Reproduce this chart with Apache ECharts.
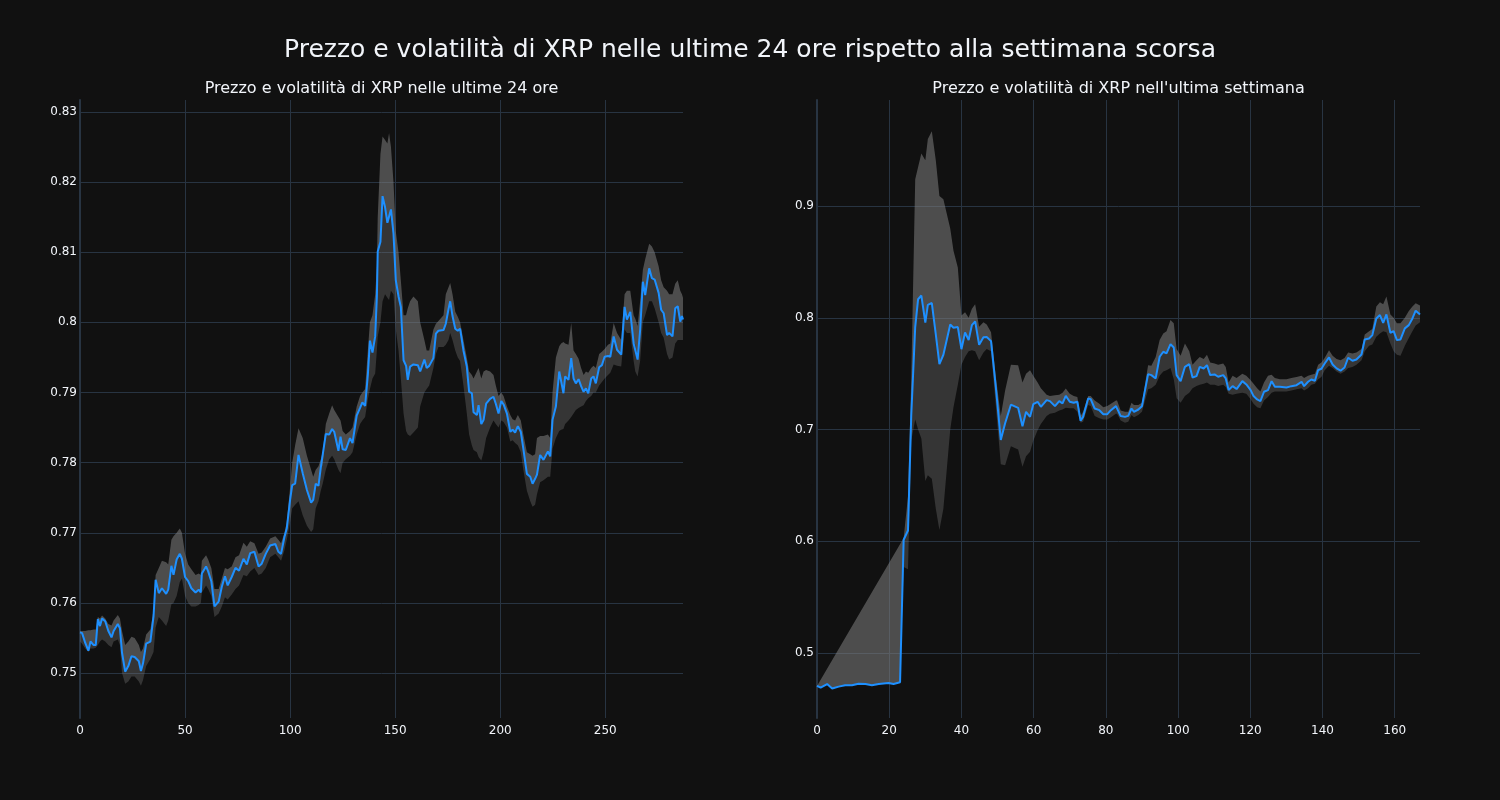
<!DOCTYPE html>
<html>
<head>
<meta charset="utf-8">
<script src="https://cdn.jsdelivr.net/npm/echarts@6/dist/echarts.min.js"></script>
<style>
  html, body { margin: 0; padding: 0; background: #111111; }
  #chart { width: 1500px; height: 800px; }
</style>
</head>
<body>
<div id="chart"></div>
<script>
// ultime 24 ore (5 minuti per punto)
var dayX = [0,1,2.5,4,5,6.5,7.5,8.5,9.5,10.5,12,13.5,15,16,18,19,20,21.5,23,24.5,26,28,29,30,31.5,33.5,35,36,37.5,39,41,42,43.5,44.5,46,47.5,48.5,50,51.5,53,55,56.5,57.5,58,60,61,62.5,64,66,67.5,69,70.3,72.2,74,
  75.7,77.8,79.4,81,83,85,86.5,88.4,90.5,93,94.4,95.7,97.3,98.4,100,101,102.4,104,106,108,110,111,112.2,113.5,114.6,115.5,117,118.6,120,121,123,124,125,126.5,128.5,129.7,131.7,133.3,134.4,135.7,137,138,139.2,140.5,
  141.3,141.7,143,144,145.2,146.3,147.1,148,149.2,150.3,151.6,152.7,154,155.2,156,157.1,158.7,160.8,161.9,163.9,165,166.2,168.2,169.4,170.6,173,174.1,175.4,176.2,177.3,178.6,179.8,180.9,182.5,184.1,185.2,186.5,187.3,188.9,189.7,191,192.1,193.3,195.2,196.8,197.9,199.2,200.5,201.6,203.2,204.8,205.9,207.1,208.4,209.8,211,
  212.7,214.3,215.4,216.6,217.5,219,220.6,222.7,223.8,224.9,226.5,228.1,229,230.1,230.9,232.5,233.8,234.9,236,237.3,238.5,239.7,240.8,241.9,243.3,244.4,245.5,247.1,248.4,249.7,251.3,252.4,254,255.6,257.6,259.2,260.3,261.9,263.5,264.3,265.4,266.6,267.9,269,270.9,272.2,273.5,275.4,276.6,277.8,279.4,280.4,282,283.3,284.5,285.7,286.5,287];
var dayPrice = [0.7558,0.7557,0.7543,0.7532,0.7545,0.7540,0.7540,0.7577,0.7567,0.7578,0.7574,0.7560,0.7551,0.7560,0.7570,0.7564,0.7529,0.7502,0.7510,0.7524,
  0.7523,0.7517,0.7503,0.7514,0.7542,0.7545,0.7581,0.7633,0.7614,0.7621,0.7613,0.7619,0.7653,0.7640,0.7662,0.7670,0.7663,0.7637,0.7631,0.7621,
  0.7615,0.7619,0.7615,0.7642,0.7652,0.7645,0.7631,0.7595,0.7602,0.7623,0.7638,0.7625,0.7637,0.7650,
  0.7646,0.7663,0.7655,0.7671,0.7673,0.7652,0.7656,0.7670,0.7682,0.7684,0.7673,0.7670,0.7694,0.7706,0.7747,0.7768,0.7770,0.7811,0.7785,0.7761,
  0.7743,0.7747,0.7770,0.7767,0.7793,0.7795,0.7841,0.7840,0.7848,0.7844,0.7817,0.7837,0.7819,0.7818,0.7835,0.7828,0.7867,0.7878,0.7886,0.7881,
  0.7925,0.7974,0.7957,0.7980,
  0.8037,0.8101,0.8115,0.8180,0.8164,0.8142,0.8144,0.8161,0.8127,0.8060,0.8037,0.8022,0.7946,0.7938,0.7918,0.7937,0.7940,0.7939,0.7930,0.7947,
  0.7935,0.7938,0.7949,0.7984,0.7988,0.7989,0.7998,0.8019,0.8030,0.8009,0.7991,0.7988,0.7991,0.7960,0.7937,0.7901,0.7899,0.7872,0.7868,0.7882,
  0.7855,0.7861,0.7884,0.7891,0.7894,0.7884,0.7870,0.7888,0.7883,0.7870,0.7844,0.7847,0.7843,0.7852,0.7844,0.7820,
  0.7784,0.7780,0.7770,0.7777,0.7783,0.7811,0.7804,0.7816,0.7809,0.7861,0.7880,0.7930,0.7916,0.7899,0.7923,0.7918,0.7949,0.7920,0.7913,0.7919,
  0.7909,0.7901,0.7906,0.7899,0.7920,0.7923,0.7913,0.7936,0.7939,0.7951,0.7952,0.7951,0.7980,0.7961,0.7954,0.8022,0.8004,0.8015,0.7970,0.7968,
  0.7947,0.7989,0.8058,0.8039,0.8077,0.8063,0.8061,0.8042,0.8018,0.8013,0.7982,0.7985,0.7980,0.8020,0.8023,0.8001,0.8009,0.8004];
var dayUpper = [0.7560,0.7560,0.7560,0.7561,0.7561,0.7562,0.7562,0.7580,0.7578,0.7582,0.7578,0.7570,0.7568,0.7575,0.7583,0.7578,0.7560,0.7540,0.7545,0.7552,
  0.7550,0.7540,0.7530,0.7535,0.7555,0.7562,0.7590,0.7640,0.7650,0.7660,0.7658,0.7655,0.7690,0.7695,0.7700,0.7706,0.7700,0.7670,0.7655,0.7648,
  0.7640,0.7642,0.7640,0.7660,0.7668,0.7662,0.7650,0.7620,0.7620,0.7635,0.7650,0.7648,0.7652,0.7665,
  0.7668,0.7686,0.7680,0.7688,0.7685,0.7670,0.7672,0.7680,0.7692,0.7695,0.7690,0.7685,0.7700,0.7715,0.7765,0.7800,0.7825,0.7849,0.7835,0.7810,
  0.7790,0.7780,0.7790,0.7795,0.7805,0.7815,0.7855,0.7870,0.7882,0.7875,0.7865,0.7860,0.7845,0.7840,0.7845,0.7850,0.7880,0.7895,0.7900,0.7905,
  0.7960,0.8000,0.8010,0.8040,
  0.8080,0.8150,0.8240,0.8265,0.8260,0.8255,0.8270,0.8250,0.8200,0.8130,0.8100,0.8060,0.8010,0.8010,0.8020,0.8030,0.8037,0.8030,0.8000,0.7975,
  0.7960,0.7960,0.7990,0.7998,0.8002,0.8010,0.8040,0.8050,0.8056,0.8040,0.8015,0.8008,0.8000,0.7975,0.7950,0.7930,0.7925,0.7920,0.7930,0.7935,
  0.7920,0.7930,0.7932,0.7930,0.7925,0.7910,0.7895,0.7900,0.7895,0.7880,0.7868,0.7862,0.7860,0.7868,0.7860,0.7840,
  0.7815,0.7812,0.7810,0.7812,0.7835,0.7838,0.7838,0.7840,0.7835,0.7900,0.7950,0.7966,0.7970,0.7972,0.7970,0.7968,0.7999,0.7960,0.7955,0.7948,
  0.7935,0.7925,0.7930,0.7928,0.7935,0.7938,0.7935,0.7955,0.7958,0.7962,0.7968,0.7970,0.7999,0.7985,0.7975,0.8040,0.8045,0.8045,0.8010,0.8005,
  0.7995,0.8030,0.8075,0.8090,0.8112,0.8108,0.8100,0.8080,0.8060,0.8050,0.8045,0.8040,0.8040,0.8055,0.8060,0.8045,0.8040,0.8035];
var dayLower = [0.7545,0.7542,0.7535,0.7530,0.7535,0.7535,0.7536,0.7540,0.7545,0.7548,0.7545,0.7540,0.7537,0.7545,0.7548,0.7540,0.7500,0.7485,0.7488,0.7495,
  0.7495,0.7488,0.7482,0.7490,0.7510,0.7520,0.7530,0.7565,0.7580,0.7575,0.7567,0.7575,0.7598,0.7600,0.7610,0.7630,0.7635,0.7610,0.7600,0.7595,
  0.7595,0.7597,0.7600,0.7615,0.7625,0.7620,0.7610,0.7580,0.7585,0.7595,0.7608,0.7605,0.7612,0.7620,
  0.7625,0.7640,0.7638,0.7645,0.7650,0.7640,0.7642,0.7650,0.7665,0.7670,0.7665,0.7660,0.7675,0.7690,0.7715,0.7735,0.7740,0.7745,0.7725,0.7710,
  0.7701,0.7705,0.7735,0.7745,0.7760,0.7770,0.7790,0.7805,0.7810,0.7805,0.7790,0.7785,0.7800,0.7805,0.7810,0.7815,0.7840,0.7855,0.7860,0.7865,
  0.7890,0.7905,0.7920,0.7927,
  0.7960,0.7980,0.8000,0.8030,0.8040,0.8035,0.8032,0.8045,0.8040,0.7990,0.7960,0.7920,0.7870,0.7845,0.7840,0.7838,0.7843,0.7850,0.7880,0.7900,
  0.7905,0.7910,0.7935,0.7955,0.7965,0.7965,0.7968,0.7975,0.7985,0.7975,0.7960,0.7950,0.7945,0.7910,0.7870,0.7840,0.7825,0.7818,0.7815,0.7808,
  0.7803,0.7815,0.7835,0.7850,0.7860,0.7855,0.7850,0.7860,0.7858,0.7850,0.7830,0.7832,0.7828,0.7825,0.7815,0.7790,
  0.7760,0.7745,0.7737,0.7740,0.7755,0.7772,0.7775,0.7780,0.7780,0.7820,0.7835,0.7845,0.7847,0.7848,0.7855,0.7860,0.7865,0.7870,0.7875,0.7878,
  0.7880,0.7882,0.7888,0.7892,0.7895,0.7900,0.7900,0.7910,0.7915,0.7920,0.7925,0.7928,0.7940,0.7938,0.7937,0.7990,0.7985,0.7985,0.7945,0.7930,
  0.7923,0.7945,0.8000,0.8010,0.8030,0.8030,0.8020,0.8000,0.7985,0.7978,0.7955,0.7947,0.7950,0.7970,0.7975,0.7975,0.7975,0.7975];

// ultima settimana (1 ora per punto)
var weekX = [0,1,2.8,4.2,6,7.8,9.7,11.5,13.4,15.2,17.1,19.8,21.2,23,24,25.2,26.1,27.2,28,28.9,30,30.7,31.8,32.9,33.9,35,36.9,37.8,39,40,41,42,42.9,43.8,44.9,46.1,47,48.2,49.5,50.9,52.1,53.7,
  55.7,56.9,57.9,59,59.9,61.1,62,63.6,64.5,65.9,67.1,68,68.9,70,71.1,72.1,73,73.7,75.1,75.8,76.9,78.2,79.3,80.4,81.4,82.8,83.1,84.1,85.3,86.2,
  87.1,87.8,89,90,91.7,92.6,93.8,94.9,95.9,96.8,97.9,98.8,99.6,100.7,101.9,103.1,104,105.1,106,107.1,108,108.9,110.1,111.1,
  112.5,113.2,114,115.1,116.2,117.8,118.9,120.1,120.9,121.9,122.8,123.8,124.9,125.9,126.8,128.2,130,131.4,132.8,134.2,
  134.9,136,136.9,137.9,138.8,139.7,140.6,141.8,142.8,143.9,145,146.1,147.1,148.3,149.4,150.8,151.7,152.9,153.8,154.9,
  155.9,156.8,157.7,158.8,159.7,160.6,161.6,162.8,163.9,164.9,165.8,167];
var weekPrice = [0.4705,0.4689,0.4722,0.4682,0.4699,0.4712,0.4712,0.4725,0.4722,0.4712,0.4722,0.4732,0.4722,0.4738,
  0.6013,0.6096,0.7123,0.7917,0.8166,0.8199,0.7957,0.8116,0.8132,0.7851,0.7586,0.7669,0.7940,0.7911,0.7917,0.7719,
  0.7868,0.7801,0.7934,0.7967,0.7758,0.7825,0.7828,0.7791,0.7387,0.6907,0.7056,0.7222,
  0.7194,0.7030,0.7158,0.7113,0.7227,0.7248,0.7203,0.7263,0.7254,0.7209,0.7254,0.7233,0.7301,0.7248,0.7239,0.7248,0.7078,0.7113,0.7278,0.7272,
  0.7188,0.7173,0.7137,0.7137,0.7173,0.7209,0.7203,0.7120,0.7113,0.7122,0.7188,0.7158,0.7179,0.7209,0.7496,0.7487,0.7457,0.7651,0.7696,0.7681,
  0.7764,0.7734,0.7487,0.7433,0.7561,0.7585,0.7466,0.7478,0.7561,0.7546,0.7576,0.7487,0.7493,0.7472,
  0.7487,0.7457,0.7353,0.7388,0.7362,0.7433,0.7403,0.7353,0.7299,0.7269,0.7254,0.7338,0.7353,0.7433,0.7382,0.7382,0.7376,0.7388,0.7397,0.7427,
  0.7388,0.7427,0.7448,0.7436,0.7532,0.7544,0.7591,0.7645,0.7582,0.7547,0.7526,0.7555,0.7642,0.7615,0.7627,0.7672,0.7806,0.7815,0.7845,0.7994,
  0.8024,0.7955,0.8030,0.7866,0.7881,0.7800,0.7806,0.7905,0.7934,0.7994,0.8063,0.8030];
var weekUpper = [0.4705,null,null,null,null,null,null,null,null,null,null,null,null,null,
  0.603,0.640,0.745,0.924,0.935,0.947,0.941,0.960,0.967,0.941,0.909,0.906,0.880,0.860,0.845,0.802,
  0.805,0.800,0.808,0.812,0.792,0.796,0.794,0.787,0.748,0.712,0.735,0.758,
  0.7576,0.742,0.750,0.753,0.748,0.742,0.737,0.731,0.730,0.7307,0.731,0.733,0.7367,0.732,0.730,0.729,0.712,0.716,0.730,0.730,
  0.726,0.723,0.720,0.721,0.723,0.726,0.726,0.717,0.716,0.716,0.724,0.722,0.722,0.724,0.7576,0.757,0.765,0.780,0.786,0.788,
  0.798,0.795,0.772,0.766,0.777,0.770,0.758,0.762,0.765,0.763,0.767,0.760,0.759,0.758,
  0.759,0.756,0.742,0.748,0.746,0.750,0.748,0.744,0.741,0.737,0.734,0.742,0.748,0.749,0.746,0.745,0.745,0.746,0.747,0.748,
  0.746,0.748,0.749,0.750,0.758,0.760,0.764,0.771,0.766,0.763,0.762,0.764,0.769,0.768,0.769,0.772,0.785,0.788,0.790,0.810,
  0.814,0.812,0.819,0.803,0.800,0.795,0.795,0.800,0.806,0.810,0.813,0.811];
var weekLower = [0.4705,0.4689,0.4722,0.4682,0.4699,0.4712,0.4712,0.4725,0.4722,0.4712,0.4722,0.4732,0.4722,0.4738,
  0.577,0.575,0.690,0.709,0.700,0.692,0.654,0.659,0.656,0.629,0.610,0.629,0.700,0.720,0.740,0.758,
  0.765,0.770,0.771,0.770,0.762,0.769,0.772,0.770,0.722,0.669,0.668,0.685,
  0.682,0.6666,0.676,0.680,0.690,0.6994,0.705,0.712,0.714,0.715,0.717,0.718,0.7195,0.719,0.719,0.716,0.706,0.707,0.722,0.721,
  0.712,0.710,0.709,0.709,0.711,0.714,0.714,0.708,0.706,0.707,0.713,0.711,0.713,0.716,0.736,0.737,0.740,0.748,0.752,0.753,
  0.755,0.745,0.728,0.724,0.730,0.733,0.737,0.739,0.740,0.741,0.742,0.740,0.740,0.739,
  0.740,0.738,0.732,0.731,0.732,0.733,0.732,0.727,0.723,0.720,0.719,0.726,0.729,0.733,0.734,0.734,0.734,0.735,0.736,0.737,
  0.735,0.737,0.740,0.741,0.745,0.747,0.753,0.757,0.755,0.752,0.750,0.752,0.755,0.756,0.758,0.762,0.770,0.775,0.776,0.783,
  0.786,0.788,0.787,0.777,0.770,0.767,0.766,0.775,0.782,0.788,0.793,0.796];

var dayXTicks = [0, 50, 100, 150, 200, 250];
var dayYTicks = [0.75, 0.76, 0.77, 0.78, 0.79, 0.8, 0.81, 0.82, 0.83];
var weekXTicks = [0, 20, 40, 60, 80, 100, 120, 140, 160];
var weekYTicks = [0.5, 0.6, 0.7, 0.8, 0.9];

var FONT = 'DejaVu Sans';
var TXT = '#f2f5fa';
var GRID = '#283442';

function pairs(xs, ys) {
    var out = [];
    for (var i = 0; i < xs.length; i++) out.push([xs[i], ys[i]]);
    return out;
}

// fascia grigia tra due curve (top in avanti, bottom all'indietro)
function band(xs, top, bottom, idx, color) {
    return {
        type: 'custom',
        xAxisIndex: idx,
        yAxisIndex: idx,
        silent: true,
        z: 1,
        data: [[xs[0], bottom[0]]],
        renderItem: function (params, api) {
            var pts = [];
            for (var i = 0; i < xs.length; i++) {
                if (top[i] != null) pts.push(api.coord([xs[i], top[i]]));
            }
            for (var j = xs.length - 1; j >= 0; j--) {
                if (bottom[j] != null) pts.push(api.coord([xs[j], bottom[j]]));
            }
            return { type: 'polygon', shape: { points: pts }, style: { fill: color } };
        }
    };
}

function xAxisOf(idx, max, ticks) {
    return {
        type: 'value', gridIndex: idx, min: 0, max: max,
        axisLine: { show: false },
        axisTick: { show: false, customValues: ticks },
        axisLabel: { color: TXT, fontSize: 12, fontFamily: FONT, margin: 7, customValues: ticks },
        splitLine: { show: true, lineStyle: { color: GRID, width: 1 } }
    };
}

function yAxisOf(idx, min, max, ticks) {
    return {
        type: 'value', gridIndex: idx, min: min, max: max,
        axisLine: { show: true, lineStyle: { color: GRID, width: 2 } },
        axisTick: { show: false, customValues: ticks },
        axisLabel: { color: TXT, fontSize: 12, fontFamily: FONT, margin: 3, customValues: ticks },
        splitLine: { show: true, lineStyle: { color: GRID, width: 1 } }
    };
}

function priceLine(xs, ys, idx) {
    return {
        type: 'line', xAxisIndex: idx, yAxisIndex: idx,
        data: pairs(xs, ys),
        showSymbol: false, symbol: 'none', z: 3,
        lineStyle: { color: '#1e90ff', width: 2 },
        itemStyle: { color: '#1e90ff' }
    };
}

var option = {
    backgroundColor: '#111111',
    animation: false,
    title: [
        { text: 'Prezzo e volatilità di XRP nelle ultime 24 ore rispetto alla settimana scorsa', left: 750, top: 38, textAlign: 'center', padding: 0,
          textStyle: { color: TXT, fontSize: 25, fontWeight: 'normal', fontFamily: FONT } },
        { text: 'Prezzo e volatilità di XRP nelle ultime 24 ore', left: 381.5, top: 81, textAlign: 'center', padding: 0,
          textStyle: { color: TXT, fontSize: 16, fontWeight: 'normal', fontFamily: FONT } },
        { text: "Prezzo e volatilità di XRP nell'ultima settimana", left: 1118.5, top: 81, textAlign: 'center', padding: 0,
          textStyle: { color: TXT, fontSize: 16, fontWeight: 'normal', fontFamily: FONT } }
    ],
    grid: [
        { left: 80, top: 100, width: 603, height: 618 },
        { left: 817, top: 100, width: 603, height: 618 }
    ],
    xAxis: [ xAxisOf(0, 287, dayXTicks), xAxisOf(1, 167, weekXTicks) ],
    yAxis: [ yAxisOf(0, 0.7436, 0.8317, dayYTicks), yAxisOf(1, 0.4418, 0.9949, weekYTicks) ],
    series: [
        band(dayX, dayUpper, dayPrice, 0, 'rgba(128,128,128,0.55)'),
        band(dayX, dayPrice, dayLower, 0, 'rgba(128,128,128,0.33)'),
        priceLine(dayX, dayPrice, 0),
        band(weekX, weekUpper, weekPrice, 1, 'rgba(128,128,128,0.55)'),
        band(weekX, weekPrice, weekLower, 1, 'rgba(128,128,128,0.33)'),
        priceLine(weekX, weekPrice, 1)
    ]
};

var myChart = echarts.init(document.getElementById('chart'));
myChart.setOption(option);
</script>
</body>
</html>
